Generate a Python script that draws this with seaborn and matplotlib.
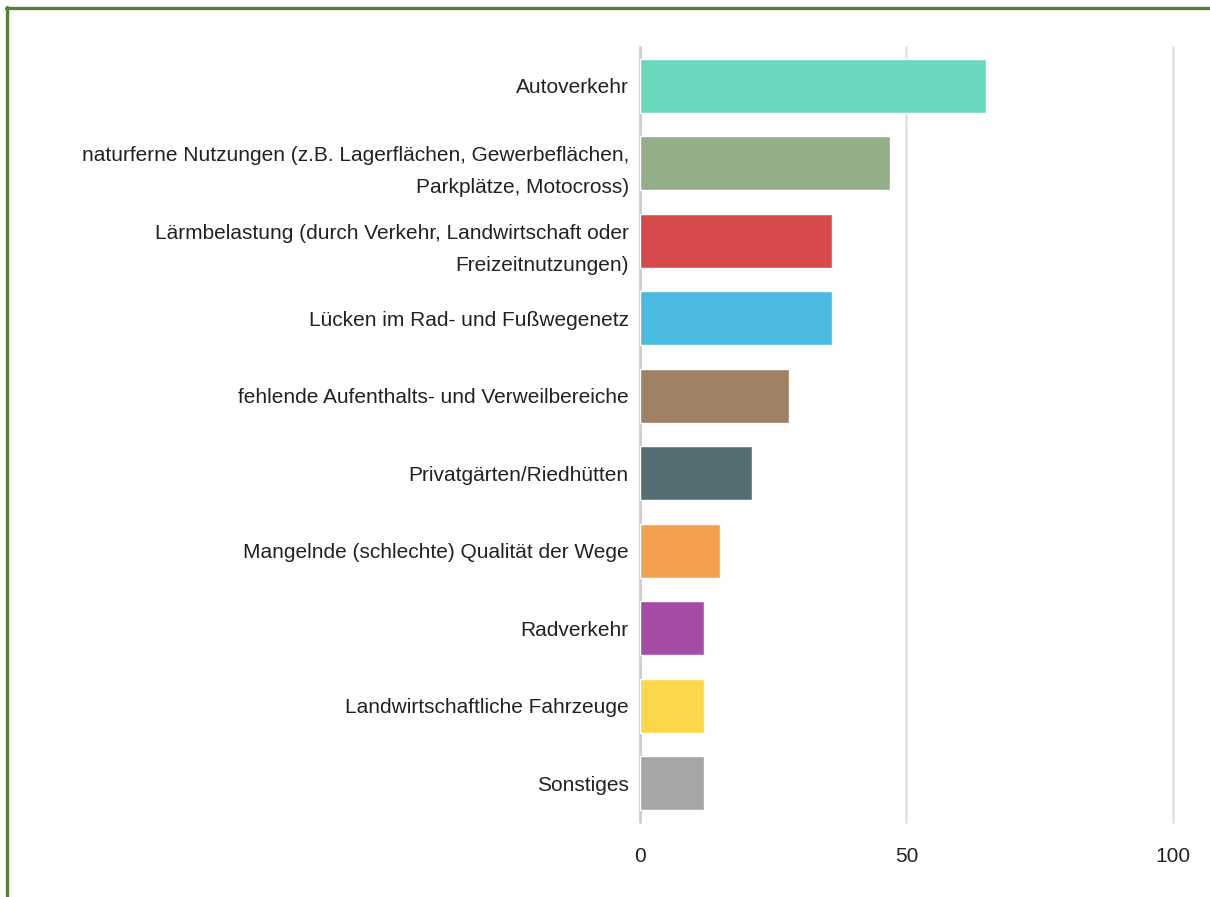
import pandas as pd
import seaborn as sns
import matplotlib.pyplot as plt
from matplotlib.lines import Line2D

# Data
categories = [
    'Autoverkehr',
    'naturferne Nutzungen (z.B. Lagerflächen, Gewerbeflächen,\nParkplätze, Motocross)',
    'Lärmbelastung (durch Verkehr, Landwirtschaft oder\nFreizeitnutzungen)',
    'Lücken im Rad- und Fußwegenetz',
    'fehlende Aufenthalts- und Verweilbereiche',
    'Privatgärten/Riedhütten',
    'Mangelnde (schlechte) Qualität der Wege',
    'Radverkehr',
    'Landwirtschaftliche Fahrzeuge',
    'Sonstiges',
]
values = [65, 47, 36, 36, 28, 21, 15, 12, 12, 12]
colors = ['#6AD8BF', '#93AE88', '#D64A4B', '#4ABBE0', '#A08166',
          '#546E73', '#F5A04E', '#A64CA6', '#FDD74A', '#A6A6A6']
x_ticks = [0, 50, 100]

df = pd.DataFrame({'kategorie': categories, 'wert': values})

sns.set_style('white')
plt.rcParams['font.family'] = ['Liberation Sans', 'DejaVu Sans']

fig = plt.figure(figsize=(12.1, 8.97), dpi=100)
ax = fig.add_axes([0.5289, 0.0836, 0.4405, 0.864])

# grid lines behind the bars
for t in x_ticks:
    ax.axvline(t, color='#cccccc' if t == 0 else '#e3e3e3', lw=2, zorder=0,
               clip_on=False)

sns.barplot(data=df, y='kategorie', x='wert', hue='kategorie', palette=colors,
            orient='h', width=0.7, saturation=1, legend=False, ax=ax, zorder=2)

ax.set_xlim(0, 100)
ax.set_ylim(9.5, -0.5)
ax.set_xticks(x_ticks)
ax.set_xticklabels([str(t) for t in x_ticks])
ax.set_xlabel('')
ax.set_ylabel('')
ax.tick_params(axis='x', length=0, pad=18, labelsize=15, labelcolor='#222222')
ax.tick_params(axis='y', length=0, pad=8, labelsize=15, labelcolor='#222222')
for lab in ax.get_yticklabels():
    lab.set_linespacing(1.85)
sns.despine(ax=ax, left=True, bottom=True)

# green frame (top and left)
green = '#538135'
fig.add_artist(Line2D([6 / 1210, 1.0], [1 - 8 / 897, 1 - 8 / 897],
                      transform=fig.transFigure, color=green, lw=2.4))
fig.add_artist(Line2D([7 / 1210, 7 / 1210], [0, 1 - 7 / 897],
                      transform=fig.transFigure, color=green, lw=2.4))

fig.savefig('out.png', dpi=100)
